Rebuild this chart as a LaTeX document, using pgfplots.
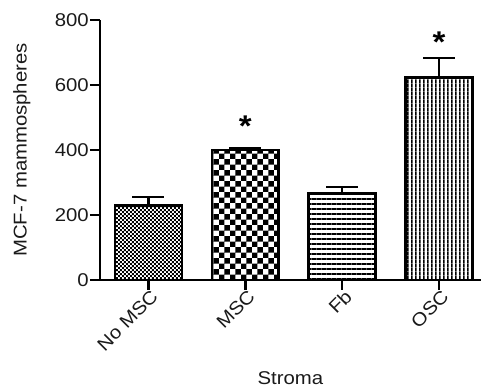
\documentclass[border=0pt]{standalone}
\usepackage{fontspec}
\setmainfont{Liberation Sans}[FakeStretch=1.1]
\usepackage{pgfplots}
\pgfplotsset{compat=1.18}
\usetikzlibrary{patterns}
\pgfdeclarepatternformonly{finechecker}{\pgfpointorigin}{\pgfqpoint{4.4pt}{4.4pt}}{\pgfqpoint{4.4pt}{4.4pt}}{%
  \pgfpathrectangle{\pgfpointorigin}{\pgfqpoint{2.2pt}{2.2pt}}%
  \pgfpathrectangle{\pgfqpoint{2.2pt}{2.2pt}}{\pgfqpoint{2.2pt}{2.2pt}}%
  \pgfusepath{fill}}
\pgfdeclarepatternformonly{bigchecker}{\pgfpointorigin}{\pgfqpoint{11pt}{11pt}}{\pgfqpoint{11pt}{11pt}}{%
  \pgfpathrectangle{\pgfpointorigin}{\pgfqpoint{5.5pt}{5.5pt}}%
  \pgfpathrectangle{\pgfqpoint{5.5pt}{5.5pt}}{\pgfqpoint{5.5pt}{5.5pt}}%
  \pgfusepath{fill}}
\pgfdeclarepatternformonly{hlines}{\pgfqpoint{0pt}{0pt}}{\pgfqpoint{4.8pt}{4.8pt}}{\pgfqpoint{4.8pt}{4.8pt}}{%
  \pgfpathrectangle{\pgfpointorigin}{\pgfqpoint{4.8pt}{2pt}}%
  \pgfusepath{fill}}
\pgfdeclarepatternformonly{vlines}{\pgfqpoint{0pt}{0pt}}{\pgfqpoint{4.3pt}{4.3pt}}{\pgfqpoint{4.3pt}{4.3pt}}{%
  \pgfpathrectangle{\pgfpointorigin}{\pgfqpoint{1.8pt}{4.3pt}}%
  \pgfusepath{fill}}
\definecolor{txt}{HTML}{1A1A1A}
\begin{document}
\begin{tikzpicture}
\begin{axis}[
  name=ax,
  scale only axis,
  width=381pt, height=260pt,
  xmin=-0.5, xmax=3.43,
  ymin=0, ymax=800,
  ytick={0,200,400,600,800},
  xtick={0,1,2,3},
  xticklabels={No MSC,MSC,Fb,OSC},
  axis x line*=bottom,
  axis y line*=left,
  axis line style={line width=2.6pt, black, -},
  tick align=outside,
  major tick length=10pt,
  tick style={line width=2.6pt, black},
  tick label style={font=\fontsize{18.5}{20}\selectfont, text=txt},
  y tick label style={inner sep=1pt},
  x tick label style={rotate=45, anchor=east, inner sep=0pt, xshift=2pt, yshift=-7pt},
  /pgf/number format/assume math mode=true,
  label style={font=\fontsize{18.5}{20}\selectfont, text=txt},
  xlabel={Stroma},
  ylabel={MCF-7 mammospheres},
  xlabel style={at={(axis description cs:0.5,0)}, anchor=center, yshift=-98pt},
  ylabel style={at={(axis description cs:-0.205,0.5)}, anchor=center},
  clip=false,
  bar width=0.69,
  every axis plot/.append style={bar shift=0pt},
  error bars/y dir=plus,
  error bars/y explicit,
  error bars/error bar style={line width=2.6pt, black},
  error bars/error mark options={rotate=90, mark size=16pt, line width=2.6pt, black},
]
\addplot[ybar, draw=black, line width=2.6pt, pattern=finechecker, pattern color=black]
  coordinates {(0,228) +- (0,27)};
\addplot[ybar, draw=black, line width=2.6pt, pattern=bigchecker, pattern color=black]
  coordinates {(1,400) +- (0,5)};
\addplot[ybar, draw=black, line width=2.6pt, pattern=hlines, pattern color=black]
  coordinates {(2,265) +- (0,21)};
\addplot[ybar, draw=black, line width=2.6pt, pattern=vlines, pattern color=black]
  coordinates {(3,622) +- (0,61)};
\addplot[draw=none, mark=none, error bars/y dir=none,
  nodes near coords={*},
  every node near coord/.style={anchor=base, inner sep=0pt, font=\bfseries\fontsize{30}{30}\selectfont, text=black}]
  coordinates {(1,440) (3,701)};
\end{axis}
\path[use as bounding box] ([shift={(-100pt,-110pt)}]ax.south west) rectangle ([shift={(1pt,20pt)}]ax.north east);
\end{tikzpicture}
\end{document}
